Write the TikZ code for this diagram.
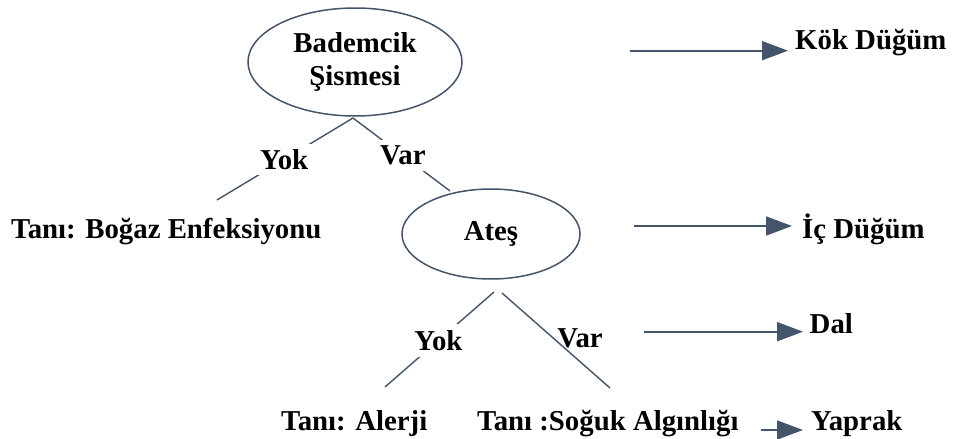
\documentclass[tikz,border=0pt]{standalone}
\usepackage{fontspec}
\setmainfont{Liberation Serif}
\usetikzlibrary{shapes.geometric,arrows.meta}
\definecolor{slate}{HTML}{44546A}
\begin{document}
\begin{tikzpicture}[x=1pt,y=-1pt,
  every node/.style={font=\bfseries\fontsize{28.8}{33}\selectfont, inner sep=0pt},
  decision/.style={ellipse, draw=slate, line width=1.5pt, align=center},
  branch/.style={draw=slate, line width=1.4pt},
  cut/.style={fill=white, inner sep=5.5pt},
  pointer/.style={draw=slate, line width=1.8pt, -{Triangle[length=26pt,width=19pt]}, fill=slate}]
\useasboundingbox (0,0) rectangle (954,439);

% decision nodes
\node[decision, minimum width=214pt, minimum height=108pt] (root) at (355,62) {Bademcik\\Şismesi};
\node[decision, minimum width=178pt, minimum height=90pt] (ates) at (491,234) {Ateş};

% leaves
\node[anchor=base west] (leafA) at (11,238) {Tanı: Boğaz Enfeksiyonu};
\node[anchor=base west] (leafB) at (281,430) {Tanı: Alerji};
\node[anchor=base west] (leafC) at (477,430) {Tanı :Soğuk Algınlığı};

% branch end points
\coordinate (rootL) at (353,118);
\coordinate (rootR) at (353,118);
\coordinate (toA) at (217,200);
\coordinate (toAtes) at (450,191);
\coordinate (atesL) at (494,292);
\coordinate (atesR) at (502,293);
\coordinate (toB) at (385,387);
\coordinate (toC) at (610,388);

\draw[branch] (rootL) -- node[cut, pos=0.506] (yok1) {Yok} (toA);
\draw[branch] (rootR) -- node[cut, pos=0.514] (var1) {Var} (toAtes);
\draw[branch] (atesL) -- node[cut, inner sep=6pt, pos=0.51] (yok2) {Yok} (toB);
\draw[branch] (atesR) -- (toC);
\node (var2) at (580,338) {Var};

% legend
\node[anchor=base west] (kok) at (795,49) {Kök Düğüm};
\node[anchor=base west] (ic) at (802,238) {İç Düğüm};
\node[anchor=base west] (dal) at (809.5,333) {Dal};
\node[anchor=base west] (yaprak) at (811,430) {Yaprak};

\coordinate (t1) at (630,50.7);  \coordinate (h1) at (788,50.7);
\coordinate (t2) at (634,226);   \coordinate (h2) at (792,226);
\coordinate (t3) at (644,331.7); \coordinate (h3) at (803,331.7);
\coordinate (t4) at (761,430);   \coordinate (h4) at (803,430);

\draw[pointer] (t1) -- (h1);
\draw[pointer] (t2) -- (h2);
\draw[pointer] (t3) -- (h3);
\draw[pointer] (t4) -- (h4);
\end{tikzpicture}
\end{document}
